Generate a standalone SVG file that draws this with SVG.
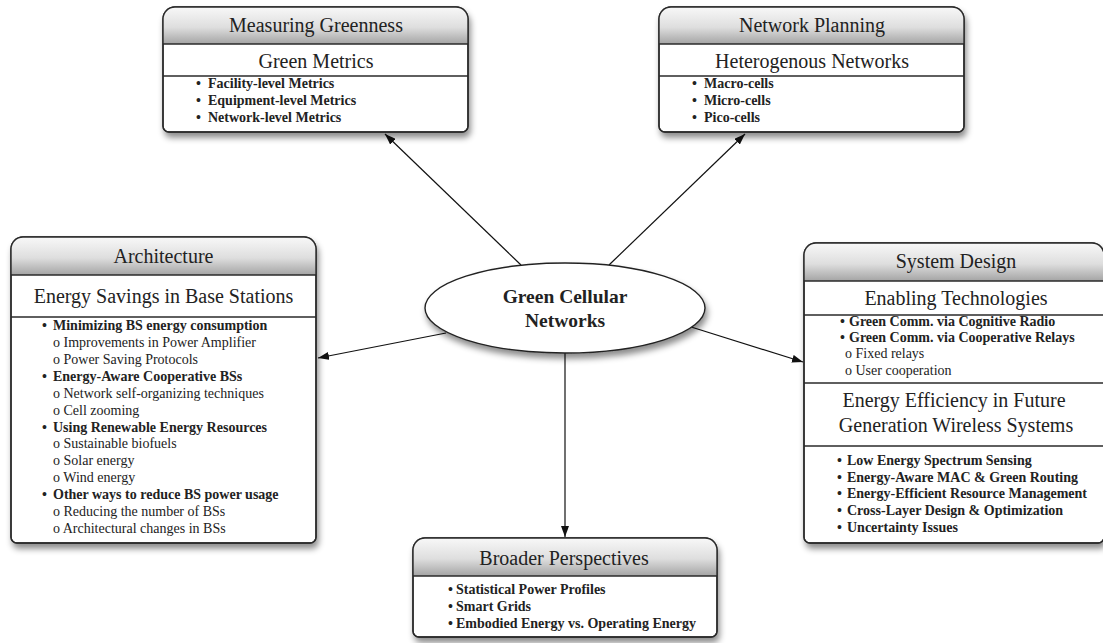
<svg xmlns="http://www.w3.org/2000/svg" width="1103" height="643" viewBox="0 0 1103 643">
<defs>
<linearGradient id="hdr" x1="0" y1="0" x2="0" y2="1">
<stop offset="0" stop-color="#f8f8f8"/>
<stop offset="0.55" stop-color="#dedede"/>
<stop offset="1" stop-color="#a4a4a4"/>
</linearGradient>
<filter id="sh" x="-10%" y="-10%" width="125%" height="130%">
<feDropShadow dx="2" dy="5" stdDeviation="3" flood-color="#000" flood-opacity="0.45"/>
</filter>
<marker id="arr" markerUnits="userSpaceOnUse" markerWidth="12" markerHeight="8" refX="11" refY="4" orient="auto">
<path d="M0,0 L11,4 L0,8 z" fill="#111"/>
</marker>
</defs>
<style>
.box{fill:#fff;stroke:#2a2a2a;stroke-width:1.4}
.hd{fill:url(#hdr)}
.ln{stroke:#2a2a2a;stroke-width:1.3}
.ol{fill:none;stroke:#2a2a2a;stroke-width:1.4}
.t{font-family:"Liberation Serif",serif;font-size:20px;fill:#222;text-anchor:middle}
.b{font-family:"Liberation Serif",serif;font-size:14px;font-weight:bold;fill:#222}
.r{font-family:"Liberation Serif",serif;font-size:14px;fill:#222}
.c{font-family:"Liberation Serif",serif;font-size:19.5px;font-weight:bold;fill:#222;text-anchor:middle}
.cn{fill:none;stroke:#111;stroke-width:1.2}
</style>

<g id="connectors">
<line class="cn" x1="521" y1="265" x2="385" y2="134" marker-end="url(#arr)"/>
<line class="cn" x1="609" y1="265" x2="745" y2="134" marker-end="url(#arr)"/>
<line class="cn" x1="446" y1="333" x2="318" y2="358" marker-end="url(#arr)"/>
<line class="cn" x1="688" y1="326" x2="803" y2="362" marker-end="url(#arr)"/>
<line class="cn" x1="565" y1="353" x2="565" y2="537" marker-end="url(#arr)"/>
</g>

<g id="center">
<ellipse cx="565" cy="308" rx="140" ry="45" fill="#fff" stroke="#222" stroke-width="1.4" filter="url(#sh)"/>
<text class="c" x="565" y="303">Green Cellular</text>
<text class="c" x="565" y="327">Networks</text>
</g>

<g id="measuring">
<path class="box" filter="url(#sh)" d="M163,19 a12,12 0 0 1 12,-12 H456 a12,12 0 0 1 12,12 V126 a6,6 0 0 1 -6,6 H169 a6,6 0 0 1 -6,-6 Z"/>
<path class="hd" d="M163,44 V19 a12,12 0 0 1 12,-12 H456 a12,12 0 0 1 12,12 V44 Z"/>
<line class="ln" x1="163" y1="44" x2="468" y2="44"/>
<line class="ln" x1="163" y1="76" x2="468" y2="76"/>
<path class="ol" d="M163,19 a12,12 0 0 1 12,-12 H456 a12,12 0 0 1 12,12 V126 a6,6 0 0 1 -6,6 H169 a6,6 0 0 1 -6,-6 Z"/>
<text class="t" x="316" y="32">Measuring Greenness</text>
<text class="t" x="316" y="68">Green Metrics</text>
<text class="b" y="88"><tspan x="196">•</tspan><tspan x="208">Facility-level Metrics</tspan></text>
<text class="b" y="105"><tspan x="196">•</tspan><tspan x="208">Equipment-level Metrics</tspan></text>
<text class="b" y="122"><tspan x="196">•</tspan><tspan x="208">Network-level Metrics</tspan></text>
</g>

<g id="planning">
<path class="box" filter="url(#sh)" d="M659,19 a12,12 0 0 1 12,-12 H952 a12,12 0 0 1 12,12 V126 a6,6 0 0 1 -6,6 H665 a6,6 0 0 1 -6,-6 Z"/>
<path class="hd" d="M659,44 V19 a12,12 0 0 1 12,-12 H952 a12,12 0 0 1 12,12 V44 Z"/>
<line class="ln" x1="659" y1="44" x2="964" y2="44"/>
<line class="ln" x1="659" y1="76" x2="964" y2="76"/>
<path class="ol" d="M659,19 a12,12 0 0 1 12,-12 H952 a12,12 0 0 1 12,12 V126 a6,6 0 0 1 -6,6 H665 a6,6 0 0 1 -6,-6 Z"/>
<text class="t" x="812" y="32">Network Planning</text>
<text class="t" x="812" y="68">Heterogenous Networks</text>
<text class="b" y="88"><tspan x="692">•</tspan><tspan x="704">Macro-cells</tspan></text>
<text class="b" y="105"><tspan x="692">•</tspan><tspan x="704">Micro-cells</tspan></text>
<text class="b" y="122"><tspan x="692">•</tspan><tspan x="704">Pico-cells</tspan></text>
</g>

<g id="architecture">
<path class="box" filter="url(#sh)" d="M11,249 a12,12 0 0 1 12,-12 H304 a12,12 0 0 1 12,12 V537 a6,6 0 0 1 -6,6 H17 a6,6 0 0 1 -6,-6 Z"/>
<path class="hd" d="M11,275 V249 a12,12 0 0 1 12,-12 H304 a12,12 0 0 1 12,12 V275 Z"/>
<line class="ln" x1="11" y1="275" x2="316" y2="275"/>
<line class="ln" x1="11" y1="317" x2="316" y2="317"/>
<path class="ol" d="M11,249 a12,12 0 0 1 12,-12 H304 a12,12 0 0 1 12,12 V537 a6,6 0 0 1 -6,6 H17 a6,6 0 0 1 -6,-6 Z"/>
<text class="t" x="163.5" y="263">Architecture</text>
<text class="t" x="163.5" y="303">Energy Savings in Base Stations</text>
<text class="b" y="330"><tspan x="42">•</tspan><tspan x="53">Minimizing BS energy consumption</tspan></text>
<text class="r" x="53" y="347">o Improvements in Power Amplifier</text>
<text class="r" x="53" y="364">o Power Saving Protocols</text>
<text class="b" y="381"><tspan x="42">•</tspan><tspan x="53">Energy-Aware Cooperative BSs</tspan></text>
<text class="r" x="53" y="398">o Network self-organizing techniques</text>
<text class="r" x="53" y="415">o Cell zooming</text>
<text class="b" y="432"><tspan x="42">•</tspan><tspan x="53">Using Renewable Energy Resources</tspan></text>
<text class="r" x="53" y="448">o Sustainable biofuels</text>
<text class="r" x="53" y="465">o Solar energy</text>
<text class="r" x="53" y="482">o Wind energy</text>
<text class="b" y="499"><tspan x="42">•</tspan><tspan x="53">Other ways to reduce BS power usage</tspan></text>
<text class="r" x="53" y="516">o Reducing the number of BSs</text>
<text class="r" x="53" y="533">o Architectural changes in BSs</text>
</g>

<g id="system">
<path class="box" filter="url(#sh)" d="M804,255 a12,12 0 0 1 12,-12 H1092 a12,12 0 0 1 12,12 V537 a6,6 0 0 1 -6,6 H810 a6,6 0 0 1 -6,-6 Z"/>
<path class="hd" d="M804,281 V255 a12,12 0 0 1 12,-12 H1092 a12,12 0 0 1 12,12 V281 Z"/>
<line class="ln" x1="804" y1="281" x2="1104" y2="281"/>
<line class="ln" x1="804" y1="315" x2="1104" y2="315"/>
<line class="ln" x1="804" y1="383" x2="1104" y2="383"/>
<line class="ln" x1="804" y1="446" x2="1104" y2="446"/>
<path class="ol" d="M804,255 a12,12 0 0 1 12,-12 H1092 a12,12 0 0 1 12,12 V537 a6,6 0 0 1 -6,6 H810 a6,6 0 0 1 -6,-6 Z"/>
<text class="t" x="956" y="268">System Design</text>
<text class="t" x="956" y="305">Enabling Technologies</text>
<text class="b" y="326"><tspan x="840">•</tspan><tspan x="849">Green Comm. via Cognitive Radio</tspan></text>
<text class="b" y="342"><tspan x="840">•</tspan><tspan x="849">Green Comm. via Cooperative Relays</tspan></text>
<text class="r" x="845" y="358">o  Fixed relays</text>
<text class="r" x="845" y="375">o  User cooperation</text>
<text class="t" x="954" y="407">Energy Efficiency in Future</text>
<text class="t" x="956" y="432">Generation Wireless Systems</text>
<text class="b" y="465"><tspan x="837">•</tspan><tspan x="847">Low Energy Spectrum Sensing</tspan></text>
<text class="b" y="482"><tspan x="837">•</tspan><tspan x="847">Energy-Aware MAC &amp; Green Routing</tspan></text>
<text class="b" y="498"><tspan x="837">•</tspan><tspan x="847">Energy-Efficient Resource Management</tspan></text>
<text class="b" y="515"><tspan x="837">•</tspan><tspan x="847">Cross-Layer Design &amp; Optimization</tspan></text>
<text class="b" y="532"><tspan x="837">•</tspan><tspan x="847">Uncertainty Issues</tspan></text>
</g>

<g id="broader">
<path class="box" filter="url(#sh)" d="M413,550 a12,12 0 0 1 12,-12 H705 a12,12 0 0 1 12,12 V631 a6,6 0 0 1 -6,6 H419 a6,6 0 0 1 -6,-6 Z"/>
<path class="hd" d="M413,576 V550 a12,12 0 0 1 12,-12 H705 a12,12 0 0 1 12,12 V576 Z"/>
<line class="ln" x1="413" y1="576" x2="717" y2="576"/>
<path class="ol" d="M413,550 a12,12 0 0 1 12,-12 H705 a12,12 0 0 1 12,12 V631 a6,6 0 0 1 -6,6 H419 a6,6 0 0 1 -6,-6 Z"/>
<text class="t" x="564" y="565">Broader Perspectives</text>
<text class="b" y="594"><tspan x="448">•</tspan><tspan x="456">Statistical Power Profiles</tspan></text>
<text class="b" y="611"><tspan x="448">•</tspan><tspan x="456">Smart Grids</tspan></text>
<text class="b" y="628"><tspan x="448">•</tspan><tspan x="456">Embodied Energy vs. Operating Energy</tspan></text>
</g>
</svg>
